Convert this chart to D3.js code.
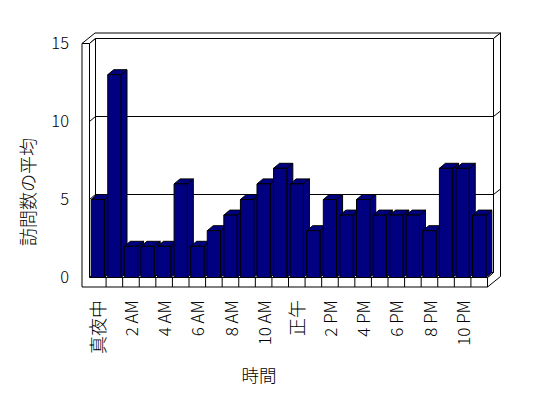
<!DOCTYPE html>
<html>
<head>
<meta charset="utf-8">
<script src="https://cdn.jsdelivr.net/npm/d3@7"></script>
<style>
  html, body { margin: 0; padding: 0; background: #fff; }
  svg { display: block; }
</style>
</head>
<body>
<svg id="chart" width="548" height="398"></svg>
<script>
// ---- data ----
const categories = ["真夜中","1 AM","2 AM","3 AM","4 AM","5 AM","6 AM","7 AM","8 AM","9 AM","10 AM","11 AM",
                    "正午","1 PM","2 PM","3 PM","4 PM","5 PM","6 PM","7 PM","8 PM","9 PM","10 PM","11 PM"];
const values = [5,13,2,2,2,6,2,3,4,5,6,7,6,3,5,4,5,4,4,4,3,7,7,4];
const yTicks = [0,5,10,15];
const yTitle = "訪問数の平均";
const xTitle = "時間";

// ---- layout ----
const svg = d3.select("#chart");
const x = d3.scaleBand().domain(categories).range([89.5, 487.5]).paddingInner(0.2).paddingOuter(0.1);
const y = d3.scaleLinear().domain([0, 15]).range([277.5, 43.5]);
const D = {dx: 6, dy: 5};       // plot depth offset
const W = {dx: 7, dy: 5.5};     // back wall thickness offset
const leftT = 7.5;              // left wall thickness
const floorT = 9.5;             // floor thickness
const font = "'Noto Sans CJK JP', sans-serif";

const x0 = x.range()[0], x1 = x.range()[1];
const yTop = y(15), yBase = y(0);
const line = d3.line();
function poly(pts, fill) {
  svg.append("path").attr("d", line(pts) + "Z")
    .attr("fill", fill).attr("stroke", "#000").attr("stroke-width", 1)
    .attr("stroke-linejoin", "miter");
}
function seg(a, b) {
  svg.append("line").attr("x1", a[0]).attr("y1", a[1]).attr("x2", b[0]).attr("y2", b[1])
    .attr("stroke", "#000").attr("stroke-width", 1);
}

const bx0 = x0 + D.dx, bx1 = x1 + D.dx;           // back plane x
const by = v => y(v) - D.dy;                      // back plane y
const ox = W.dx + D.dx, oy = W.dy + D.dy;         // total depth offset

// top faces of left wall + back wall
poly([[x0 - leftT, yTop], [x0, yTop], [bx0, by(15)], [bx1, by(15)], [x1 + ox, yTop - oy], [x0 - leftT + ox, yTop - oy]], "#fff");
// back wall front face
poly([[bx0, by(15)], [bx1, by(15)], [bx1, by(0)], [bx0, by(0)]], "#fff");
// left wall inner face
poly([[x0, yTop], [bx0, by(15)], [bx0, by(0)], [x0, yBase]], "#fff");
// right side face (back wall + floor)
poly([[x1, yBase], [bx1, by(0)], [bx1, by(15)], [x1 + ox, yTop - oy], [x1 + ox, yBase + floorT - oy], [x1, yBase + floorT]], "#fff");
// floor top
poly([[x0, yBase], [x1, yBase], [bx1, by(0)], [bx0, by(0)]], "#fff");

// gridlines
yTicks.filter(v => v > 0 && v < 15).forEach(v => {
  seg([bx0, by(v)], [bx1, by(v)]);
  seg([x0, y(v)], [bx0, by(v)]);
  seg([x0 - leftT, y(v)], [x0, y(v)]);
  seg([bx1, by(v)], [x1 + ox, by(v) - W.dy]);
});

// front faces of left wall + floor
poly([[x0 - leftT, yTop], [x0, yTop], [x0, yBase], [x1, yBase], [x1, yBase + floorT], [x0 - leftT, yBase + floorT]], "#fff");
// category boundary ticks
categories.forEach((c, i) => {
  if (i === 0) return;
  const xx = x0 + i * x.step();
  seg([xx, yBase], [xx, yBase + floorT]);
});

// bars
const barFill = "#000080";
categories.forEach((c, i) => {
  const v = values[i];
  const l = x(c), r = x(c) + x.bandwidth(), t = y(v), b = y(0);
  poly([[r, b], [r + D.dx, b - D.dy], [r + D.dx, t - D.dy], [r, t]], barFill);   // side
  poly([[l, t], [r, t], [r + D.dx, t - D.dy], [l + D.dx, t - D.dy]], barFill);   // top
  poly([[l, t], [r, t], [r, b], [l, b]], barFill);                               // front
});

// y axis labels
const yAxis = d3.axisLeft(y).tickValues(yTicks).tickSize(0).tickPadding(13);
const yg = svg.append("g").attr("transform", `translate(${x0 - leftT},0)`).call(yAxis);
yg.attr("font-size", null).attr("font-family", null);
yg.select(".domain").remove();
yg.selectAll("text")
  .style("font-family", font).style("font-size", "16.5px").style("font-weight", 300).style("fill", "#000");

// x labels (every other hour)
categories.forEach((c, i) => {
  if (i % 2 !== 0) return;
  const cx = x(c) + x.bandwidth() / 2 + 1;
  const cjk = /[^\x00-\x7F]/.test(c);
  svg.append("text")
    .attr("transform", `translate(${cx},300) rotate(-90)`)
    .attr("text-anchor", "end")
    .attr("dy", "0.36em")
    .style("font-family", font)
    .style("font-size", cjk ? "18px" : "17px")
    .style("font-weight", 300)
    .style("fill", "#000")
    .text(c);
});

// titles
svg.append("text")
  .attr("x", 259).attr("y", 376).attr("dy", "0.36em")
  .attr("text-anchor", "middle")
  .style("font-family", font).style("font-size", "17.5px").style("font-weight", 300).style("fill", "#000")
  .text(xTitle);
svg.append("text")
  .attr("transform", "translate(29,192) rotate(-90)")
  .attr("text-anchor", "middle").attr("dy", "0.36em")
  .style("font-family", font).style("font-size", "18px").style("font-weight", 300).style("fill", "#000")
  .text(yTitle);
</script>
</body>
</html>
